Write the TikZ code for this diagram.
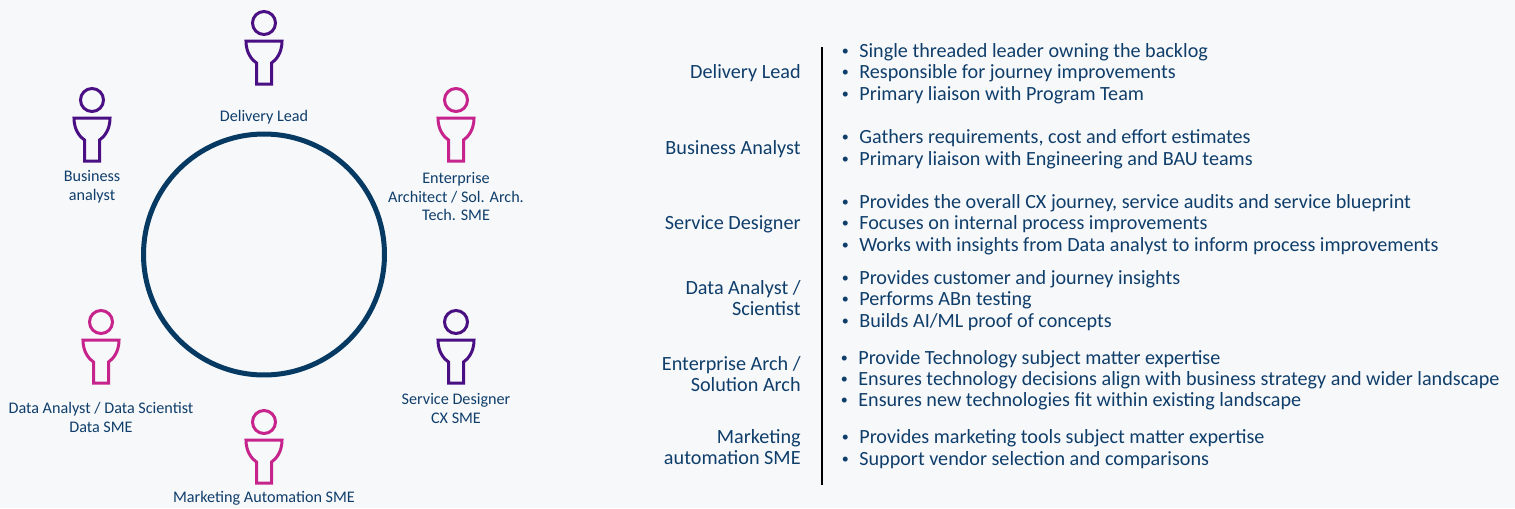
\documentclass[tikz,border=0pt]{standalone}
\usepackage{xcolor}
\usepackage{fontspec}
\setmainfont{Carlito}
\usepackage{tikz}
\usetikzlibrary{calc}
\definecolor{pagebg}{HTML}{F7F8FA}
\definecolor{navy}{HTML}{0F3E6B}
\definecolor{ringblue}{HTML}{063A63}
\definecolor{violetp}{HTML}{4A1083}
\definecolor{magentap}{HTML}{C6248C}
\newcommand{\itembullet}{\llap{\raisebox{.7pt}{\fontsize{8pt}{8pt}\selectfont\textbullet}\hspace{6pt}}}
\tikzset{
    person/.pic={
        \draw[line width=.06cm, pic actions] (0,0) circle (.23cm);
        \draw[line width=.06cm, pic actions, line join=miter] (-18,18) -- (18,18) .. controls (18,30) and (12,37) .. (7.5,40) -- (7.5,61) -- (-7.5,61) -- (-7.5,40) .. controls (-12,37) and (-18,30) .. (-18,18) -- cycle;
    },
    role/.style={text=navy, font=\fontsize{9.2pt}{10.8pt}\selectfont, align=center, inner sep=0pt},
    head/.style={text=navy, font=\fontsize{11.5pt}{12.2pt}\selectfont, align=right, anchor=east, inner sep=0pt},
    item/.style={text=navy, font=\fontsize{11.47pt}{12pt}\selectfont, anchor=base west, inner sep=0pt}
}
\begin{document}
\begin{tikzpicture}[x=.02cm, y=-.02cm]
        \useasboundingbox[fill=pagebg] (0,0) rectangle (1515,508);

        % ring
        \draw[ringblue, line width=.1cm] (264,254.5) circle (2.41cm);

        % people
        \pic[violetp] at (264,23) {person};
        \pic[violetp] at (92,100) {person};
        \pic[magentap] at (456,100) {person};
        \pic[magentap] at (101,322) {person};
        \pic[violetp] at (456,322) {person};
        \pic[magentap] at (264,422) {person};

        % people labels
        \node[role] (lead) at (264,117) {Delivery Lead};
        \node[role] (analyst) at (92,186.5) {Business\\analyst};
        \node[role] (architect) at (456,196.5) {Enterprise\\Architect / Sol. Arch.\\Tech. SME};
        \node[role] (data) at (101,417) {Data Analyst / Data Scientist\\Data SME};
        \node[role] (designer) at (456,408) {Service Designer\\CX SME};
        \node[role] (marketing) at (264,498) {Marketing Automation SME};

        % divider
        \coordinate (top) at (822,47);
        \coordinate (bottom) at (822,485);
        \draw[black, line width=.05cm] (top) -- (bottom);

        % headings
        \node[head] (h1) at (801,73) {Delivery Lead};
        \node[head] (h2) at (801,149) {Business Analyst};
        \node[head] (h3) at (801,224) {Service Designer};
        \node[head] (h4) at (801,298) {Data Analyst /\\Scientist};
        \node[head] (h5) at (801,374) {Enterprise Arch /\\Solution Arch};
        \node[head] (h6) at (801,447) {Marketing\\automation SME};

        % duties
        \node[item] (a1) at (859,57) {\itembullet Single threaded leader owning the backlog};
        \node[item] (a2) at (859,78) {\itembullet Responsible for journey improvements};
        \node[item] (a3) at (859,100) {\itembullet Primary liaison with Program Team};

        \node[item] (b1) at (859,143) {\itembullet Gathers requirements, cost and effort estimates};
        \node[item] (b2) at (859,165) {\itembullet Primary liaison with Engineering and BAU teams};

        \node[item] (c1) at (859,208) {\itembullet Provides the overall CX journey, service audits and service blueprint};
        \node[item] (c2) at (859,229) {\itembullet Focuses on internal process improvements};
        \node[item] (c3) at (859,251) {\itembullet Works with insights from Data analyst to inform process improvements};

        \node[item] (d1) at (859,284) {\itembullet Provides customer and journey insights};
        \node[item] (d2) at (859,305) {\itembullet Performs ABn testing};
        \node[item] (d3) at (859,327) {\itembullet Builds AI/ML proof of concepts};

        \node[item] (e1) at (858,364) {\itembullet Provide Technology subject matter expertise};
        \node[item] (e2) at (858,385) {\itembullet Ensures technology decisions align with business strategy and wider landscape};
        \node[item] (e3) at (858,406) {\itembullet Ensures new technologies fit within existing landscape};

        \node[item] (f1) at (859,443) {\itembullet Provides marketing tools subject matter expertise};
        \node[item] (f2) at (859,465) {\itembullet Support vendor selection and comparisons};
    \end{tikzpicture}
\end{document}
